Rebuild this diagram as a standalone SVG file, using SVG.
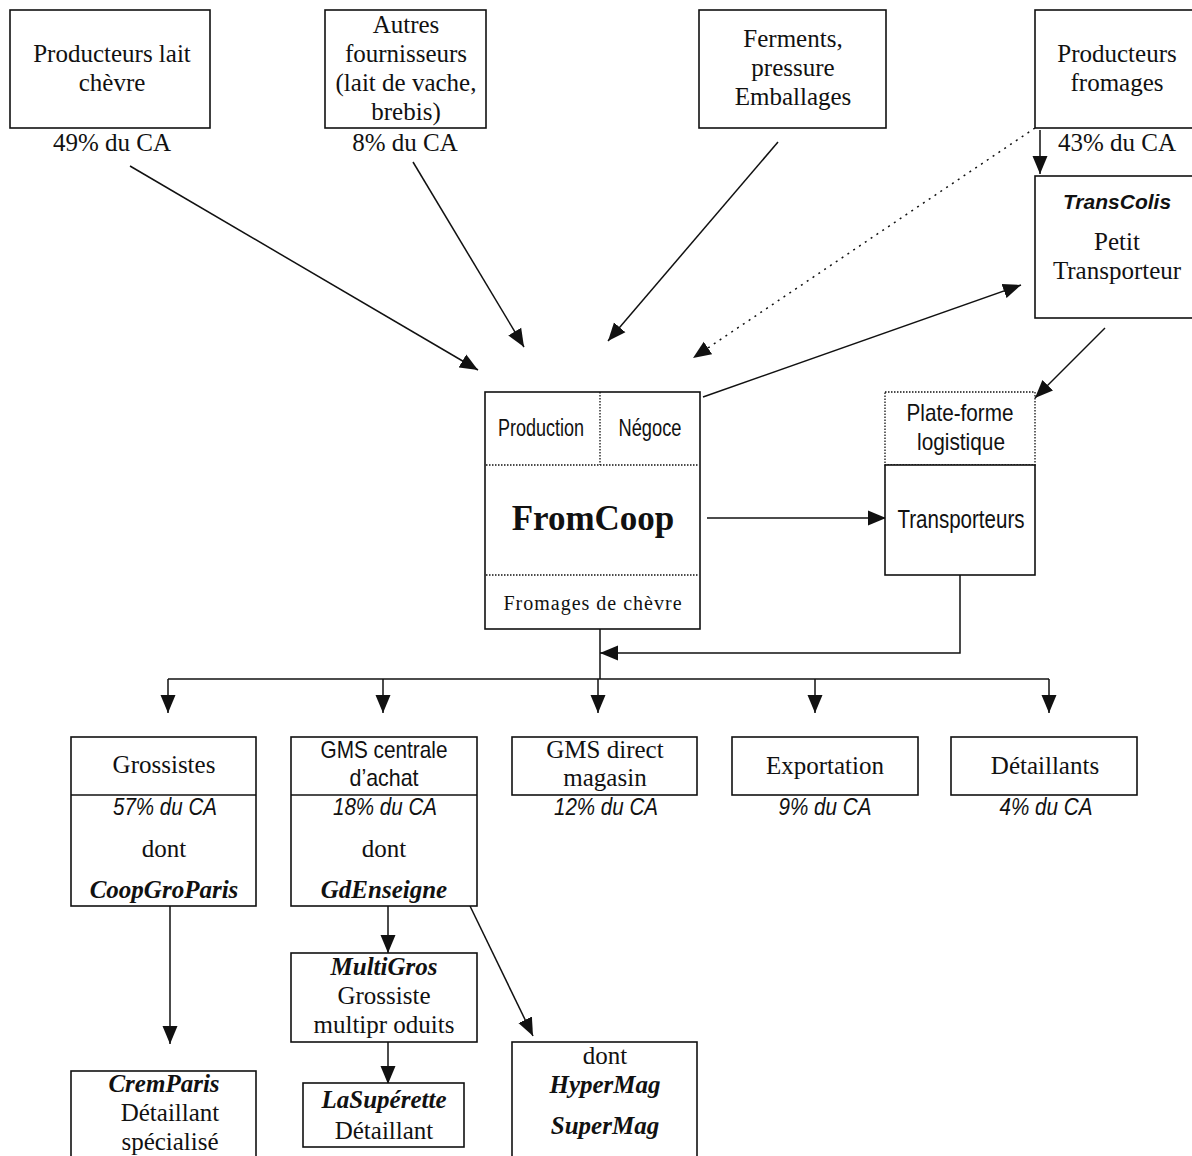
<svg xmlns="http://www.w3.org/2000/svg" width="1192" height="1156" viewBox="0 0 1192 1156">
<defs>
<style>
.box{fill:#fff;stroke:#111;stroke-width:1.6}
.dotbox{fill:none;stroke:#111;stroke-width:1.3;stroke-dasharray:1.5 1.5}
.div{stroke:#111;stroke-width:1.3;stroke-dasharray:1.5 1.5;fill:none}
.s{font-family:"Liberation Serif","Times New Roman",serif;font-size:25px;fill:#111;text-anchor:middle}
.bi{font-weight:bold;font-style:italic}
.n{font-family:"Liberation Sans",Arial,sans-serif;font-size:24px;fill:#111;text-anchor:middle}
.it{font-style:italic}
.c{stroke:#111;stroke-width:1.5;fill:none}
.dot{stroke:#111;stroke-width:1.5;fill:none;stroke-dasharray:2 5}
</style>
<marker id="ah" markerUnits="userSpaceOnUse" markerWidth="19" markerHeight="16" refX="18" refY="8" orient="auto">
<path d="M0,0.5 L18,8 L0,15.5 Z" fill="#111"/>
</marker>
</defs>
<rect width="1192" height="1156" fill="#fff"/>

<g id="connectors">
<path class="c" d="M130,166 L478,370" marker-end="url(#ah)"/>
<path class="c" d="M413,162 L524,347" marker-end="url(#ah)"/>
<path class="c" d="M778,142 L608,341" marker-end="url(#ah)"/>
<path class="dot" d="M1035,128 L693,358" marker-end="url(#ah)"/>
<path class="c" d="M1040,130 L1040,174" marker-end="url(#ah)"/>
<path class="c" d="M703,397 L1021,285" marker-end="url(#ah)"/>
<path class="c" d="M1105,328 L1035,398" marker-end="url(#ah)"/>
<path class="c" d="M707,518 L886,518" marker-end="url(#ah)"/>
<path class="c" d="M960,575 L960,653 L600,653" marker-end="url(#ah)"/>
<path class="c" d="M600,629 L600,679"/>
<path class="c" d="M168,679 L1049,679"/>
<path class="c" d="M168,679 L168,713" marker-end="url(#ah)"/>
<path class="c" d="M383,679 L383,713" marker-end="url(#ah)"/>
<path class="c" d="M598,679 L598,713" marker-end="url(#ah)"/>
<path class="c" d="M815,679 L815,713" marker-end="url(#ah)"/>
<path class="c" d="M1049,679 L1049,713" marker-end="url(#ah)"/>
<path class="c" d="M170,906 L170,1044" marker-end="url(#ah)"/>
<path class="c" d="M388,906 L388,953" marker-end="url(#ah)"/>
<path class="c" d="M388,1042 L388,1084" marker-end="url(#ah)"/>
<path class="c" d="M470,906 L533,1036" marker-end="url(#ah)"/>
</g>

<g id="producteurs-lait">
<rect class="box" x="10" y="10" width="200" height="118"/>
<text class="s" x="112" y="62">Producteurs lait</text>
<text class="s" x="112" y="91">chèvre</text>
<text class="s" x="112" y="151">49% du CA</text>
</g>

<g id="autres-fournisseurs">
<rect class="box" x="325" y="10" width="161" height="118"/>
<text class="s" x="406" y="33">Autres</text>
<text class="s" x="406" y="62">fournisseurs</text>
<text class="s" x="406" y="91">(lait de vache,</text>
<text class="s" x="406" y="120">brebis)</text>
<text class="s" x="405" y="151">8% du CA</text>
</g>

<g id="ferments">
<rect class="box" x="699" y="10" width="187" height="118"/>
<text class="s" x="793" y="47">Ferments,</text>
<text class="s" x="793" y="76">pressure</text>
<text class="s" x="793" y="105">Emballages</text>
</g>

<g id="producteurs-fromages">
<rect class="box" x="1035" y="10" width="170" height="118"/>
<text class="s" x="1117" y="62">Producteurs</text>
<text class="s" x="1117" y="91">fromages</text>
<text class="s" x="1117" y="151">43% du CA</text>
</g>

<g id="transcolis">
<rect class="box" x="1035" y="176" width="170" height="142"/>
<text x="1117" y="209" style="font-family:'Liberation Sans',Arial,sans-serif;font-size:21px;font-weight:bold;font-style:italic;fill:#111;text-anchor:middle">TransColis</text>
<text class="s" x="1117" y="250">Petit</text>
<text class="s" x="1117" y="279">Transporteur</text>
</g>

<g id="fromcoop">
<rect class="box" x="485" y="392" width="215" height="237"/>
<line class="div" x1="600" y1="392" x2="600" y2="465"/>
<line class="div" x1="486" y1="465" x2="699" y2="465"/>
<line class="div" x1="486" y1="575" x2="699" y2="575"/>
<text class="n" x="541" y="436" style="font-size:23px" textLength="86" lengthAdjust="spacingAndGlyphs">Production</text>
<text class="n" x="650" y="436" style="font-size:23px" textLength="63" lengthAdjust="spacingAndGlyphs">Négoce</text>
<text class="s" x="593" y="530" style="font-size:35px;font-weight:bold">FromCoop</text>
<text class="s" x="593" y="610" style="font-size:20px;letter-spacing:1px">Fromages de chèvre</text>
</g>

<g id="plateforme">
<rect class="dotbox" x="885" y="392" width="150" height="73"/>
<text class="n" x="960" y="421" textLength="107" lengthAdjust="spacingAndGlyphs">Plate-forme</text>
<text class="n" x="961" y="450" textLength="88" lengthAdjust="spacingAndGlyphs">logistique</text>
</g>

<g id="transporteurs">
<rect class="box" x="885" y="465" width="150" height="110"/>
<text class="n" x="961" y="528" style="font-size:25px" textLength="127" lengthAdjust="spacingAndGlyphs">Transporteurs</text>
</g>

<g id="grossistes">
<rect class="box" x="71" y="737" width="185" height="169"/>
<line class="c" x1="71" y1="795" x2="256" y2="795"/>
<text class="s" x="164" y="773">Grossistes</text>
<text class="n it" x="165" y="815" textLength="104" lengthAdjust="spacingAndGlyphs">57% du CA</text>
<text class="s" x="164" y="857">dont</text>
<text class="s bi" x="164" y="898">CoopGroParis</text>
</g>

<g id="gms-centrale">
<rect class="box" x="291" y="737" width="186" height="169"/>
<line class="c" x1="291" y1="795" x2="477" y2="795"/>
<text class="n" x="384" y="758" textLength="127" lengthAdjust="spacingAndGlyphs">GMS centrale</text>
<text class="n" x="384" y="786" textLength="69" lengthAdjust="spacingAndGlyphs">d’achat</text>
<text class="n it" x="385" y="815" textLength="104" lengthAdjust="spacingAndGlyphs">18% du CA</text>
<text class="s" x="384" y="857">dont</text>
<text class="s bi" x="384" y="898">GdEnseigne</text>
</g>

<g id="gms-direct">
<rect class="box" x="512" y="737" width="185" height="58"/>
<text class="s" x="605" y="758">GMS direct</text>
<text class="s" x="605" y="786">magasin</text>
<text class="n it" x="606" y="815" textLength="104" lengthAdjust="spacingAndGlyphs">12% du CA</text>
</g>

<g id="exportation">
<rect class="box" x="732" y="737" width="186" height="58"/>
<text class="s" x="825" y="774">Exportation</text>
<text class="n it" x="825" y="815" textLength="93" lengthAdjust="spacingAndGlyphs">9% du CA</text>
</g>

<g id="detaillants">
<rect class="box" x="951" y="737" width="186" height="58"/>
<text class="s" x="1045" y="774">Détaillants</text>
<text class="n it" x="1046" y="815" textLength="93" lengthAdjust="spacingAndGlyphs">4% du CA</text>
</g>

<g id="cremparis">
<rect class="box" x="71" y="1071" width="185" height="100"/>
<text class="s bi" x="164" y="1092">CremParis</text>
<text class="s" x="170" y="1121">Détaillant</text>
<text class="s" x="170" y="1150">spécialisé</text>
</g>

<g id="multigros">
<rect class="box" x="291" y="953" width="186" height="89"/>
<text class="s bi" x="384" y="975">MultiGros</text>
<text class="s" x="384" y="1004">Grossiste</text>
<text class="s" x="384" y="1033">multipr oduits</text>
</g>

<g id="lasuperette">
<rect class="box" x="303" y="1083" width="161" height="64"/>
<text class="s bi" x="384" y="1108">LaSupérette</text>
<text class="s" x="384" y="1139">Détaillant</text>
</g>

<g id="hypermag">
<rect class="box" x="512" y="1042" width="185" height="130"/>
<text class="s" x="605" y="1064">dont</text>
<text class="s bi" x="605" y="1093">HyperMag</text>
<text class="s bi" x="605" y="1134">SuperMag</text>
</g>
</svg>
